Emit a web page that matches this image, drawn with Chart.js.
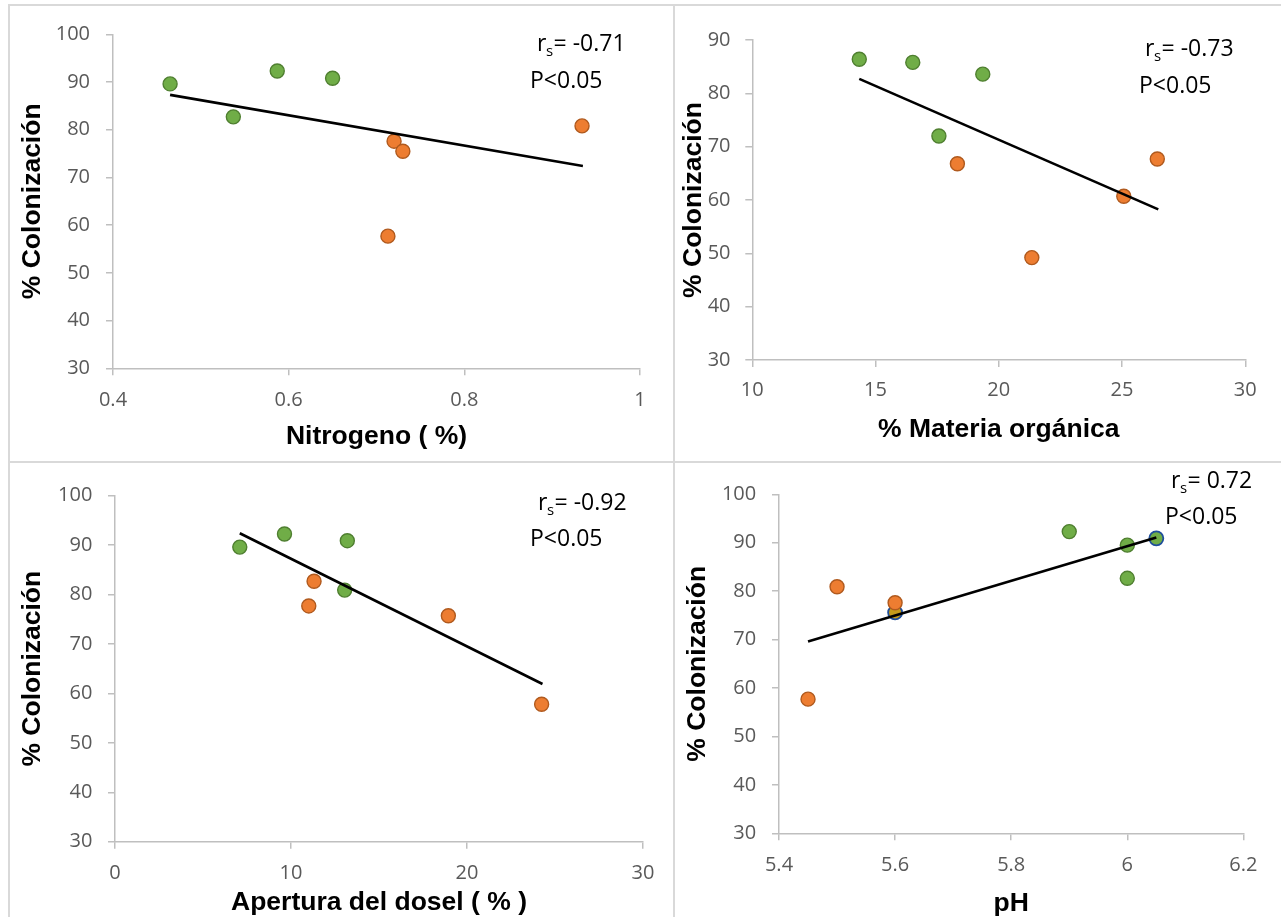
<!DOCTYPE html>
<html lang="es">
<head>
<meta charset="utf-8">
<title>% Colonización vs variables del suelo</title>
<script src="https://cdn.jsdelivr.net/npm/chart.js@4.4.1/dist/chart.umd.min.js"></script>
<style>
html, body { margin: 0; padding: 0; background: #fff; }
body { width: 1281px; height: 917px; position: relative; overflow: hidden; }
.linea { position: absolute; background: #d9d9d9; }
canvas { position: absolute; }
</style>
</head>
<body>
<!-- marcos de los cuatro paneles -->
<div class="linea" style="left:8px;top:4px;width:1273px;height:2px"></div>
<div class="linea" style="left:8px;top:4px;width:2px;height:913px"></div>
<div class="linea" style="left:673px;top:4px;width:2px;height:913px"></div>
<div class="linea" style="left:8px;top:461px;width:1273px;height:2px"></div>

<canvas id="g-nitrogeno"></canvas>
<canvas id="g-materia"></canvas>
<canvas id="g-dosel"></canvas>
<canvas id="g-ph"></canvas>

<script>
// ================================================================
// % Colonización frente a N, materia orgánica, apertura del dosel y pH
// ================================================================

// ── Nitrógeno ───────────────────────────────────────────────
var nitVerdeX    = [0.465, 0.537, 0.587, 0.650];
var nitVerdeY    = [89.6, 82.7, 92.3, 90.8];
var nitNaranjaX  = [0.720, 0.730, 0.713, 0.934];
var nitNaranjaY  = [77.6, 75.5, 57.7, 80.8];
var nitTendX     = [0.465, 0.935];
var nitTendY     = [87.3, 72.4];
var nitTicksX    = [0.4, 0.6, 0.8, 1];
var nitTicksY    = [30, 40, 50, 60, 70, 80, 90, 100];

// ── Materia orgánica ────────────────────────────────────────
var moVerdeX     = [14.34, 16.51, 19.35, 17.57];
var moVerdeY     = [86.4, 85.8, 83.6, 72.0];
var moNaranjaX   = [18.32, 21.34, 25.07, 26.43];
var moNaranjaY   = [66.8, 49.2, 60.7, 67.7];
var moTendX      = [14.34, 26.47];
var moTendY      = [82.7, 58.25];
var moTicksX     = [10, 15, 20, 25, 30];
var moTicksY     = [30, 40, 50, 60, 70, 80, 90];

// ── Apertura del dosel ──────────────────────────────────────
var doVerdeX     = [7.09, 9.63, 13.2, 13.05];
var doVerdeY     = [89.6, 92.25, 90.9, 80.9];
var doNaranjaX   = [11.31, 11.01, 18.94, 24.24];
var doNaranjaY   = [82.7, 77.7, 75.7, 57.8];
var doTendX      = [7.09, 24.29];
var doTendY      = [92.4, 61.9];
var doTicksX     = [0, 10, 20, 30];
var doTicksY     = [30, 40, 50, 60, 70, 80, 90, 100];

// ── pH ──────────────────────────────────────────────────────
var phVerdeX     = [5.9, 6.0, 6.0];
var phVerdeY     = [92.3, 89.5, 82.65];
var phNaranjaX   = [5.45, 5.5, 5.6];
var phNaranjaY   = [57.7, 80.9, 77.6];
var phAzulX      = [5.6, 6.05];
var phAzulY      = [75.6, 90.9];
var phTendX      = [5.45, 6.05];
var phTendY      = [69.6, 91.1];
var phTicksX     = [5.4, 5.6, 5.8, 6, 6.2];
var phTicksY     = [30, 40, 50, 60, 70, 80, 90, 100];

// coeficientes de Spearman
var rsNitrogeno = '-0.71';
var rsMateria   = '-0.73';
var rsDosel     = '-0.92';
var rsPh        = '0.72';
var textoP      = 'P<0.05';

var VERDE = '#70AD47', VERDE_B = '#4F7F30';
var NARANJA = '#ED7D31', NARANJA_B = '#B05A1E';
var AZUL_B = '#1F4E9A', DORADO = '#C59B1A';
var EJE = '#bfbfbf';

Chart.defaults.font.family = '"Open Sans", sans-serif';
Chart.defaults.animation = false;

function _pts(xs, ys) { return xs.map(function(x, i) { return { x: x, y: ys[i] }; }); }

// texto r_s / P dentro del panel
var pluginRs = {
    id: 'rsTexto',
    afterDatasetsDraw: function(chart, args, o) {
        var ctx = chart.ctx;
        ctx.save();
        ctx.fillStyle = '#000';
        ctx.textBaseline = 'alphabetic';
        ctx.font = '23px "Open Sans"';
        var x = o.rs[0], y = o.rs[1];
        ctx.fillText('r', x, y);
        x += ctx.measureText('r').width - 0.5;
        ctx.font = '15px "Open Sans"';
        ctx.fillText('s', x, y + 4.5);
        x += ctx.measureText('s').width + 0.5;
        ctx.font = '23px "Open Sans"';
        ctx.fillText('= ' + o.valor, x, y);
        ctx.fillText(textoP, o.p[0], o.p[1]);
        ctx.restore();
    }
};

function _escala(min, max, ticks, titulo, cfg, eje) {
    var horiz = eje === 'x';
    return {
        type: 'linear',
        position: horiz ? 'bottom' : 'left',
        min: min, max: max,
        afterBuildTicks: function(s) { s.ticks = ticks.map(function(v) { return { value: v }; }); },
        afterFit: function(s) { if (horiz) s.height = cfg.altoEjeX; else s.width = cfg.anchoEjeY; },
        grid: { display: true, drawOnChartArea: false, drawTicks: true, tickLength: 7, color: EJE, lineWidth: 1.5 },
        border: { display: true, color: EJE, width: 1.5 },
        ticks: {
            color: '#595959', font: { size: 20 },
            padding: horiz ? cfg.padTickX : cfg.padTickY,
            maxRotation: 0, autoSkip: false,
            callback: function(v) { return String(v); }
        },
        title: {
            display: true, text: titulo, color: '#000',
            font: { family: '"Liberation Sans", Arial, sans-serif', size: 26.5, weight: 'bold', lineHeight: 1.2 },
            padding: horiz ? { top: 0, bottom: cfg.padTituloX } : { top: cfg.padTituloY, bottom: 0 }
        }
    };
}

function crearPanel(cfg) {
    var canvas = document.getElementById(cfg.id);
    canvas.width = cfg.caja[2];
    canvas.height = cfg.caja[3];
    canvas.style.left = cfg.caja[0] + 'px';
    canvas.style.top = cfg.caja[1] + 'px';

    var sets = [
        { data: _pts(cfg.tendX, cfg.tendY), showLine: true, borderColor: '#000', borderWidth: 2.6, pointRadius: 0, fill: false },
        { data: _pts(cfg.naranjaX, cfg.naranjaY), backgroundColor: NARANJA, borderColor: NARANJA_B, borderWidth: 1.4, pointRadius: 7 },
        { data: _pts(cfg.verdeX, cfg.verdeY), backgroundColor: VERDE, borderColor: VERDE_B, borderWidth: 1.4, pointRadius: 7 }
    ];
    if (cfg.azulX) {
        sets.push({ data: _pts(cfg.azulX, cfg.azulY), backgroundColor: [DORADO, VERDE], borderColor: AZUL_B, borderWidth: 1.8, pointRadius: 7 });
    }

    return new Chart(canvas, {
        type: 'scatter',
        data: { datasets: sets },
        options: {
            responsive: false,
            events: [],
            layout: { padding: { top: cfg.padTop, right: cfg.padRight, left: 0, bottom: 0 } },
            plugins: {
                legend: { display: false },
                tooltip: { enabled: false },
                rsTexto: { valor: cfg.rs, rs: cfg.posRs, p: cfg.posP }
            },
            scales: {
                x: _escala(cfg.xMin, cfg.xMax, cfg.ticksX, cfg.tituloX, cfg, 'x'),
                y: _escala(cfg.yMin, cfg.yMax, cfg.ticksY, '% Colonización', cfg, 'y')
            }
        },
        plugins: [pluginRs]
    });
}

crearPanel({
    id: 'g-nitrogeno', caja: [10, 6, 664, 455],
    padTop: 28.3, padRight: 34, anchoEjeY: 103, altoEjeX: 92.7,
    padTickX: 12.7, padTickY: 16, padTituloX: 8.4, padTituloY: 6.6,
    xMin: 0.4, xMax: 1, yMin: 30, yMax: 100, ticksX: nitTicksX, ticksY: nitTicksY,
    tituloX: 'Nitrogeno ( %)',
    verdeX: nitVerdeX, verdeY: nitVerdeY, naranjaX: nitNaranjaX, naranjaY: nitNaranjaY,
    tendX: nitTendX, tendY: nitTendY,
    rs: rsNitrogeno, posRs: [527, 45], posP: [520, 82]
});

crearPanel({
    id: 'g-materia', caja: [676, 6, 605, 455],
    padTop: 34, padRight: 35.7, anchoEjeY: 76.3, altoEjeX: 101,
    padTickX: 11, padTickY: 14.8, padTituloX: 15.1, padTituloY: 1.8,
    xMin: 10, xMax: 30, yMin: 30, yMax: 90, ticksX: moTicksX, ticksY: moTicksY,
    tituloX: '% Materia orgánica',
    verdeX: moVerdeX, verdeY: moVerdeY, naranjaX: moNaranjaX, naranjaY: moNaranjaY,
    tendX: moTendX, tendY: moTendY,
    rs: rsMateria, posRs: [469, 50], posP: [463, 87]
});

crearPanel({
    id: 'g-dosel', caja: [10, 464, 664, 453],
    padTop: 31.7, padRight: 31, anchoEjeY: 105, altoEjeX: 75.3,
    padTickX: 12.6, padTickY: 15.6, padTituloX: -1.9, padTituloY: 6.6,
    xMin: 0, xMax: 30, yMin: 30, yMax: 100, ticksX: doTicksX, ticksY: doTicksY,
    tituloX: 'Apertura del dosel ( % )',
    verdeX: doVerdeX, verdeY: doVerdeY, naranjaX: doNaranjaX, naranjaY: doNaranjaY,
    tendX: doTendX, tendY: doTendY,
    rs: rsDosel, posRs: [528, 46], posP: [520, 82]
});

crearPanel({
    id: 'g-ph', caja: [676, 464, 605, 453],
    padTop: 30.3, padRight: 37.6, anchoEjeY: 103, altoEjeX: 83.7,
    padTickX: 12.7, padTickY: 15.8, padTituloX: -2.2, padTituloY: 5.7,
    xMin: 5.4, xMax: 6.2, yMin: 30, yMax: 100, ticksX: phTicksX, ticksY: phTicksY,
    tituloX: 'pH',
    verdeX: phVerdeX, verdeY: phVerdeY, naranjaX: phNaranjaX, naranjaY: phNaranjaY,
    azulX: phAzulX, azulY: phAzulY,
    tendX: phTendX, tendY: phTendY,
    rs: rsPh, posRs: [495, 24], posP: [489, 60]
});
</script>
</body>
</html>
